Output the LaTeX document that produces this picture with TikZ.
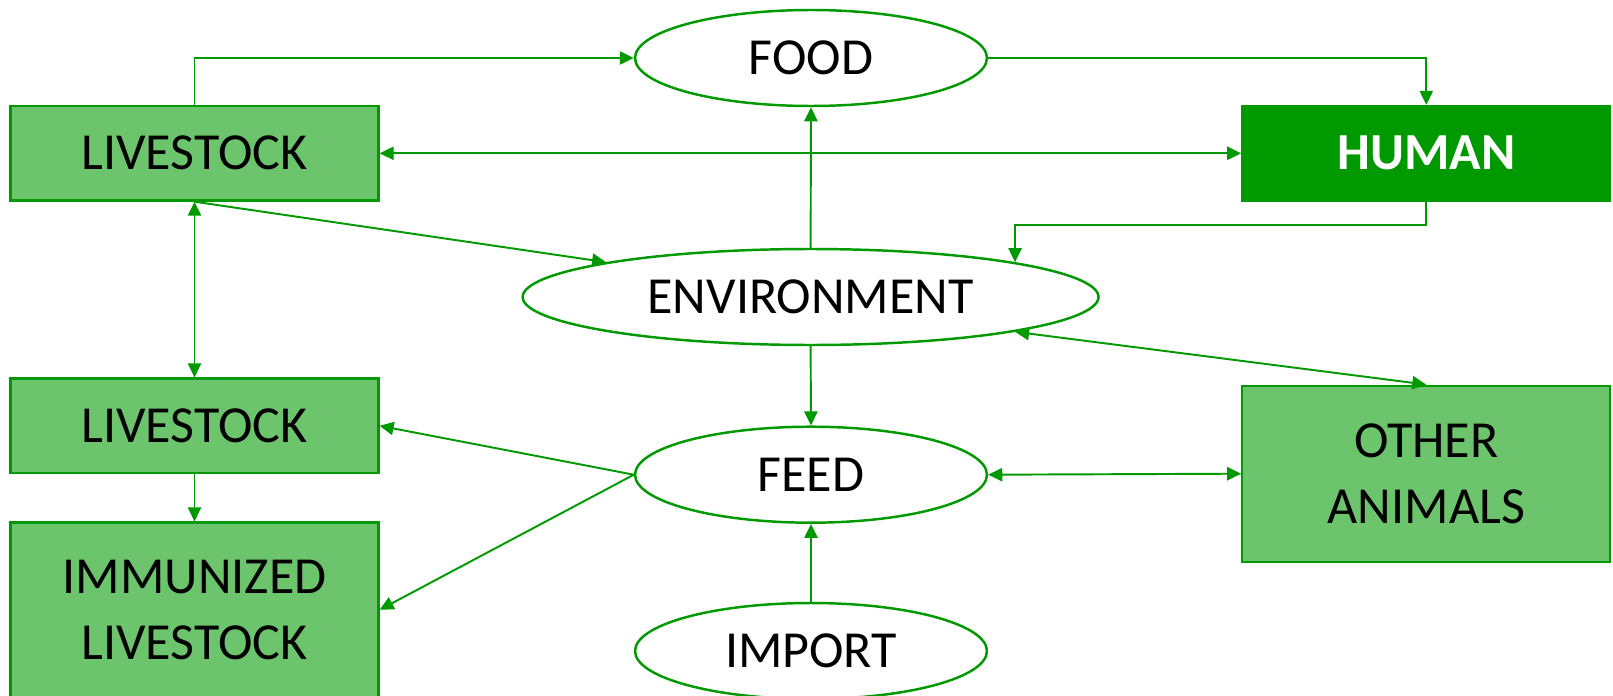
\documentclass[tikz,border=0pt]{standalone}
\usepackage{fontspec}
\setmainfont{Carlito}
\usetikzlibrary{arrows.meta, shapes.geometric, positioning}
\definecolor{grn}{RGB}{0,153,0}
\definecolor{grnfill}{RGB}{108,196,108}

\begin{document}
\begin{tikzpicture}[x=0.02cm, y=-0.02cm, >={Triangle[length=8pt,width=7.5pt]},
    box/.style={draw=grn, line width=1.3pt, fill=grnfill, minimum width=7.36cm,
        minimum height=1.89cm, inner sep=0pt, align=center, font=\fontsize{29.6}{37.5}\selectfont},
    oval/.style={ellipse, draw=grn, line width=1.4pt, fill=white, minimum width=7.04cm,
        minimum height=1.92cm, inner sep=0pt, font=\fontsize{29.6}{37.5}\selectfont},
    link/.style={grn, line width=1.1pt}]
        \useasboundingbox (0,0) rectangle (1613,696);

        % Khối bên trái
        \node[box] (liv1) at (194.5,153.3) {LIVESTOCK};
        \node[box] (liv2) at (194.5,425.8) {LIVESTOCK};
        \node[box, minimum height=3.49cm] (immune) at (194.5,609.8) {IMMUNIZED\\LIVESTOCK};

        % Khối bên phải
        \node[box, fill=grn, text=white, font=\fontsize{29.6}{37.5}\selectfont\bfseries] (human) at (1426.3,153.3) {HUMAN};
        \node[box, minimum height=3.52cm] (other) at (1426.3,473.7) {OTHER\\ANIMALS};

        % Các elip ở giữa
        \node[oval] (food) at (811,58) {FOOD};
        \node[oval, minimum width=11.52cm] (env) at (810.6,297) {ENVIRONMENT};
        \node[oval] (feed) at (811,474.7) {FEED};
        \node[oval] (import) at (811,651) {IMPORT};

        % Mũi tên
        \draw[link, ->] (liv1.north) |- (food.west);
        \draw[link, ->] (food.east) -| (human.north);
        \draw[link, <->] (liv1.east) -- (human.west);
        \draw[link, ->] (env.north) -- (food.south);
        \draw[link, ->] (liv1.south) -- (env.north west);
        \draw[link, ->] (human.south) -- ++(0,23) -| (env.north east);
        \draw[link, <->] (liv1.south) -- (liv2.north);
        \draw[link, ->] (env.south) -- (feed.north);
        \draw[link, <->] (env.south east) -- (other.north);
        \draw[link, ->] (feed.west) -- (liv2.east);
        \draw[link, ->] (feed.west) -- (immune.east);
        \draw[link, <->] (feed.east) -- (other.west);
        \draw[link, ->] (liv2.south) -- (immune.north);
        \draw[link, ->] (import.north) -- (feed.south);
    \end{tikzpicture}
\end{document}
